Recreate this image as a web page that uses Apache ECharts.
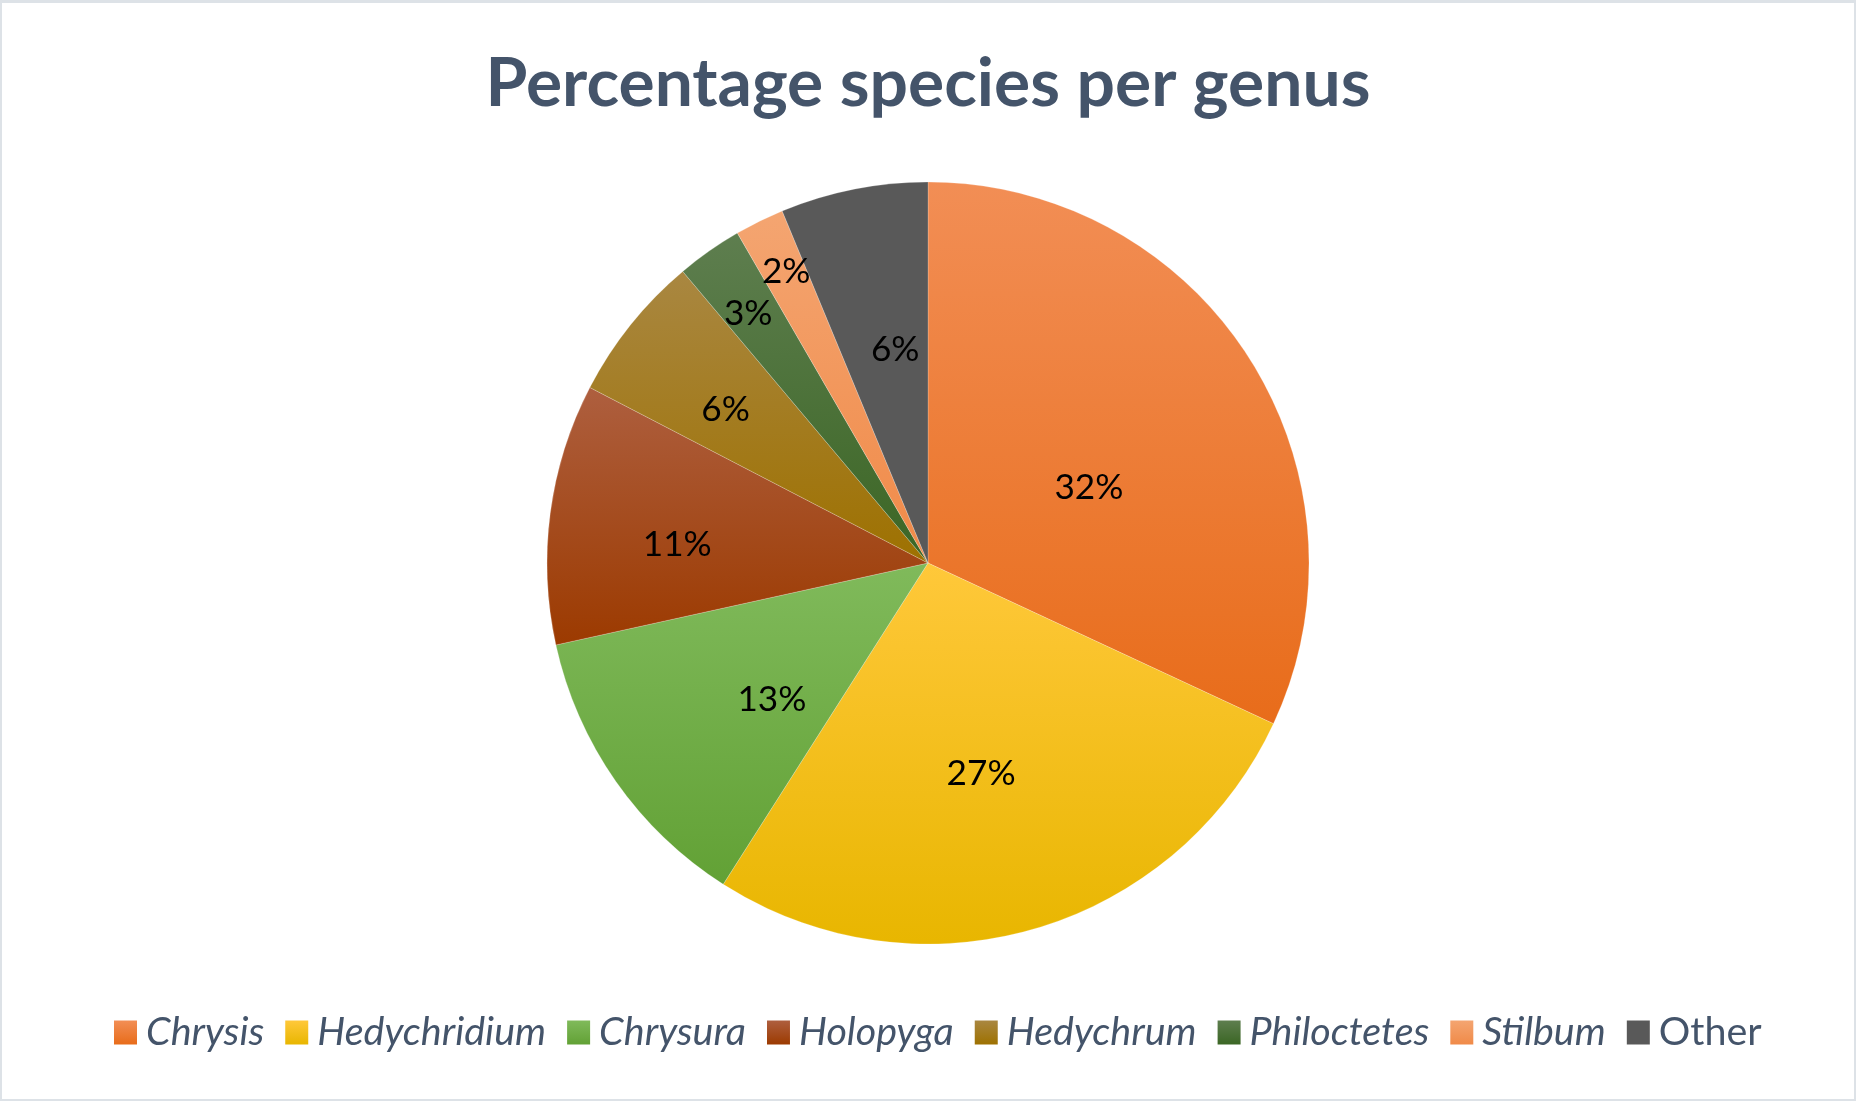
<!DOCTYPE html>
<html>
<head>
<meta charset="utf-8">
<script src="https://cdn.jsdelivr.net/npm/echarts@6/dist/echarts.min.js"></script>
<style>
html,body{margin:0;padding:0;background:#fff;}
#c{position:absolute;left:0;top:0;width:1856px;height:1101px;}
#frame{position:absolute;left:0;top:0;width:1856px;height:1101px;box-sizing:border-box;border:2px solid #DDE2E7;border-top-width:3px;pointer-events:none;}
</style>
</head>
<body>
<div id="c"></div>
<div id="frame"></div>
<script>
// ---- data ----
const categories = ['Chrysis', 'Hedychridium', 'Chrysura', 'Holopyga', 'Hedychrum', 'Philoctetes', 'Stilbum', 'Other'];
const shares = [31.93, 27.10, 12.52, 11.07, 6.25, 2.79, 2.09, 6.25];
const italicNames = [true, true, true, true, true, true, true, false];

// ---- styles ----
const topColors = ['#F28E55', '#FFC83A', '#80BA5B', '#AE5F3F', '#A98741', '#5E7E4F', '#F4A571', '#595959'];
const bottomColors = ['#E86C1A', '#E8B600', '#62A135', '#9C3A00', '#9E7100', '#3B6624', '#F08A48', '#595959'];
const labelRadiusFrac = [0.466, 0.569, 0.545, 0.66, 0.667, 0.806, 0.85, 0.566];
const labelAngleShift = [7.5, 2.1, -6.3, -3.3, -1.5, -0.8, 0.3, 2.5];

const CX = 928, CY = 563, R = 381;
const FONT = 'Lato';

const ctx = document.createElement('canvas').getContext('2d');
function measure(text, style, weight, size) {
  ctx.font = style + ' ' + weight + ' ' + size + 'px ' + FONT;
  return ctx.measureText(text).width;
}
const titleText = 'Percentage species per genus';
const titleSize = 100 * 885 / measure(titleText, 'normal', 'bold', 100);
const labelSize = 100 * 69 / measure('32%', 'normal', 'normal', 100);
let legW = 0;
categories.forEach((n, i) => { legW += measure(n, italicNames[i] ? 'italic' : 'normal', 'normal', 100); });
const legendSize = 100 * 1245 / legW;

const chart = echarts.init(document.getElementById('c'), null, {renderer: 'canvas'});

const data = categories.map((name, i) => ({
  name: name,
  value: shares[i],
  itemStyle: {
    color: new echarts.graphic.LinearGradient(0, 0, 0, 1, [
      {offset: 0, color: topColors[i]},
      {offset: 1, color: bottomColors[i]}
    ])
  }
}));

const option = {
  animation: false,
  backgroundColor: '#ffffff',
  title: {
    text: titleText,
    left: 'center',
    top: 58 - titleSize * 0.12,
    padding: 0,
    textStyle: {
      fontFamily: FONT,
      fontWeight: 'bold',
      fontSize: titleSize,
      color: '#44546A'
    }
  },
  legend: {
    left: 114,
    top: 1013,
    orient: 'horizontal',
    itemWidth: 23,
    itemHeight: 24,
    itemGap: 21,
    icon: 'rect',
    padding: 0,
    itemStyle: {borderWidth: 0},
    textStyle: {
      fontFamily: FONT,
      fontSize: legendSize,
      color: '#44546A',
      padding: [0, 0, 0, 4]
    },
    data: categories.map((n, i) => ({
      name: n,
      textStyle: {fontStyle: italicNames[i] ? 'italic' : 'normal'}
    }))
  },
  series: [{
    type: 'pie',
    center: [CX, CY],
    radius: [0, R],
    startAngle: 90,
    clockwise: true,
    avoidLabelOverlap: false,
    itemStyle: {borderWidth: 0.6, borderColor: 'rgba(255,255,255,0.35)'},
    emphasis: {disabled: true},
    label: {
      show: true,
      position: 'inside',
      fontFamily: FONT,
      fontSize: labelSize,
      color: '#000000',
      formatter: p => Math.round(p.percent) + '%'
    },
    labelLine: {show: false},
    labelLayout: function (params) {
      const i = params.dataIndex;
      const r = params.labelRect;
      const lx = r.x + r.width / 2, ly = r.y + r.height / 2;
      const ang = Math.atan2(ly - CY, lx - CX) + labelAngleShift[i] * Math.PI / 180;
      const rad = labelRadiusFrac[i] * R;
      const tx = CX + rad * Math.cos(ang), ty = CY + rad * Math.sin(ang);
      return {dx: tx - lx, dy: ty - ly};
    },
    data: data
  }]
};
chart.setOption(option);
</script>
</body>
</html>
